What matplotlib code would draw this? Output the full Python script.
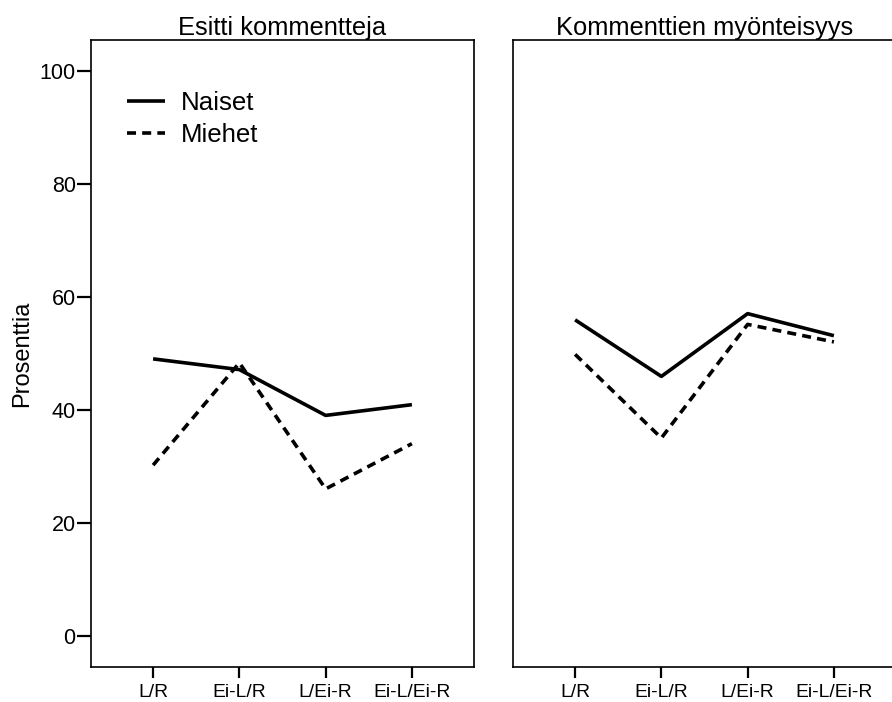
import matplotlib
matplotlib.use("Agg")
import matplotlib.pyplot as plt

plt.rcParams['font.family'] = ['Liberation Sans', 'DejaVu Sans']

categories = ["L/R", "Ei-L/R", "L/Ei-R", "Ei-L/Ei-R"]
titles = ["Esitti kommentteja", "Kommenttien myönteisyys"]
series_names = ["Naiset", "Miehet"]
naiset_left = [49.0, 47.1, 39.0, 40.9]
miehet_left = [30.2, 48.3, 26.0, 34.0]
naiset_right = [55.9, 45.9, 57.0, 53.1]
miehet_right = [49.8, 35.0, 55.1, 52.0]
yticks = [0, 20, 40, 60, 80, 100]

fig = plt.figure(figsize=(8.92, 7.02), dpi=100)
W, H = 892, 702
def pos(x0, x1, y0, y1):
    return [x0 / W, 1 - y1 / H, (x1 - x0) / W, (y1 - y0) / H]

ax1 = fig.add_axes(pos(91, 474, 40, 667))
ax2 = fig.add_axes(pos(513, 896, 40, 667))

dash = (0, (2.5, 1.7))
for ax, title, nv, mv in [(ax1, titles[0], naiset_left, miehet_left),
                          (ax2, titles[1], naiset_right, miehet_right)]:
    x = range(len(categories))
    ax.plot(x, nv, color='black', lw=2.6, solid_capstyle='butt', label=series_names[0])
    ax.plot(x, mv, color='black', lw=2.6, linestyle=dash, dash_capstyle='butt', label=series_names[1])
    ax.set_xlim(-0.72, 3.72)
    ax.set_ylim(-5.5, 105.4)
    ax.set_xticks(list(x))
    ax.set_xticklabels(categories, fontsize=13.9)
    ax.tick_params(axis='x', length=8, width=1.6, pad=4)
    ax.set_title(title, fontsize=18.4, pad=3)
    for s in ax.spines.values():
        s.set_linewidth(1.2)

ax1.set_yticks(yticks)
ax1.set_yticklabels([str(v) for v in yticks], fontsize=15.5)
ax1.tick_params(axis='y', length=10, width=1.6, pad=1)
ax1.set_ylabel("Prosenttia", fontsize=17, labelpad=5)
ax2.set_yticks([])

leg = ax1.legend(loc='upper left', bbox_to_anchor=((127 - 91) / 383, (667 - 91) / 627),
                 frameon=False, fontsize=18.6, handlelength=1.47, handletextpad=0.6,
                 borderaxespad=0, borderpad=0, labelspacing=0.3)

fig.savefig("out.png", dpi=100)
